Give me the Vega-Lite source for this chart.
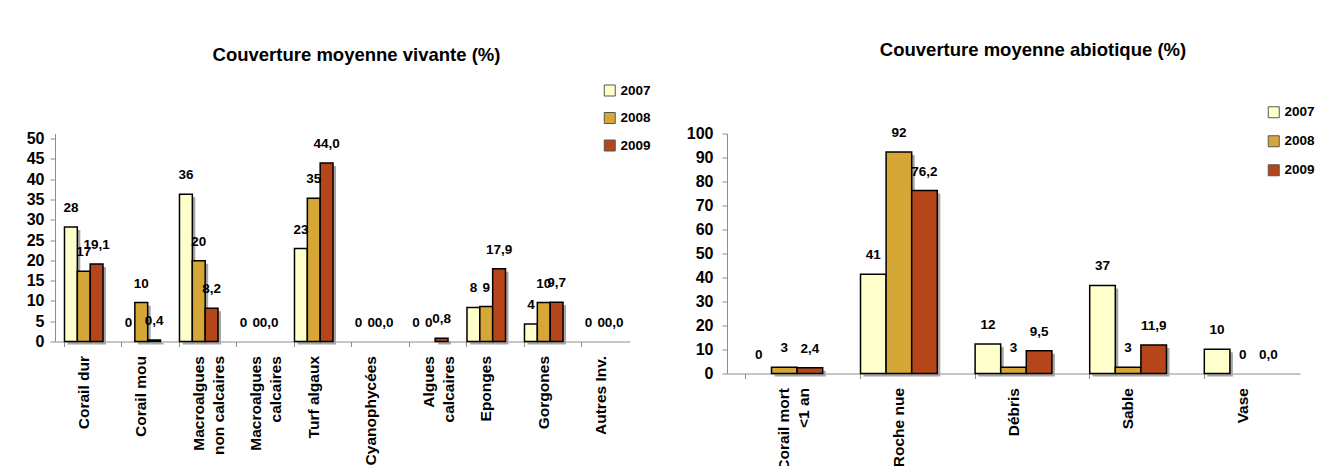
{
  "$schema": "https://vega.github.io/schema/vega-lite/v6.json",
  "padding": {"left": 26, "top": 40.5, "right": 5, "bottom": 0},
  "background": "white",
  "datasets": {
    "vivante": [
      {"categorie": "Corail dur", "annee": "2007", "valeur": 28.2, "etiquette": "28"},
      {"categorie": "Corail dur", "annee": "2008", "valeur": 17.3, "etiquette": "17"},
      {"categorie": "Corail dur", "annee": "2009", "valeur": 19.1, "etiquette": "19,1"},
      {"categorie": "Corail mou", "annee": "2007", "valeur": 0, "etiquette": "0"},
      {"categorie": "Corail mou", "annee": "2008", "valeur": 9.6, "etiquette": "10"},
      {"categorie": "Corail mou", "annee": "2009", "valeur": 0.4, "etiquette": "0,4"},
      {"categorie": "Macroalgues non calcaires", "annee": "2007", "valeur": 36.3, "etiquette": "36"},
      {"categorie": "Macroalgues non calcaires", "annee": "2008", "valeur": 19.9, "etiquette": "20"},
      {"categorie": "Macroalgues non calcaires", "annee": "2009", "valeur": 8.2, "etiquette": "8,2"},
      {"categorie": "Macroalgues calcaires", "annee": "2007", "valeur": 0, "etiquette": "0"},
      {"categorie": "Macroalgues calcaires", "annee": "2008", "valeur": 0, "etiquette": "0"},
      {"categorie": "Macroalgues calcaires", "annee": "2009", "valeur": 0, "etiquette": "0,0"},
      {"categorie": "Turf algaux", "annee": "2007", "valeur": 22.9, "etiquette": "23"},
      {"categorie": "Turf algaux", "annee": "2008", "valeur": 35.3, "etiquette": "35"},
      {"categorie": "Turf algaux", "annee": "2009", "valeur": 44.0, "etiquette": "44,0"},
      {"categorie": "Cyanophycées", "annee": "2007", "valeur": 0, "etiquette": "0"},
      {"categorie": "Cyanophycées", "annee": "2008", "valeur": 0, "etiquette": "0"},
      {"categorie": "Cyanophycées", "annee": "2009", "valeur": 0, "etiquette": "0,0"},
      {"categorie": "Algues calcaires", "annee": "2007", "valeur": 0, "etiquette": "0"},
      {"categorie": "Algues calcaires", "annee": "2008", "valeur": 0, "etiquette": "0"},
      {"categorie": "Algues calcaires", "annee": "2009", "valeur": 0.8, "etiquette": "0,8"},
      {"categorie": "Eponges", "annee": "2007", "valeur": 8.4, "etiquette": "8"},
      {"categorie": "Eponges", "annee": "2008", "valeur": 8.6, "etiquette": "9"},
      {"categorie": "Eponges", "annee": "2009", "valeur": 17.9, "etiquette": "17,9"},
      {"categorie": "Gorgones", "annee": "2007", "valeur": 4.3, "etiquette": "4"},
      {"categorie": "Gorgones", "annee": "2008", "valeur": 9.6, "etiquette": "10"},
      {"categorie": "Gorgones", "annee": "2009", "valeur": 9.7, "etiquette": "9,7"},
      {"categorie": "Autres Inv.", "annee": "2007", "valeur": 0, "etiquette": "0"},
      {"categorie": "Autres Inv.", "annee": "2008", "valeur": 0, "etiquette": "0"},
      {"categorie": "Autres Inv.", "annee": "2009", "valeur": 0, "etiquette": "0,0"}
    ],
    "abiotique": [
      {"categorie": "Corail mort <1 an", "annee": "2007", "valeur": 0, "etiquette": "0"},
      {"categorie": "Corail mort <1 an", "annee": "2008", "valeur": 2.6, "etiquette": "3"},
      {"categorie": "Corail mort <1 an", "annee": "2009", "valeur": 2.4, "etiquette": "2,4"},
      {"categorie": "Roche nue", "annee": "2007", "valeur": 41.4, "etiquette": "41"},
      {"categorie": "Roche nue", "annee": "2008", "valeur": 92.3, "etiquette": "92"},
      {"categorie": "Roche nue", "annee": "2009", "valeur": 76.2, "etiquette": "76,2"},
      {"categorie": "Débris", "annee": "2007", "valeur": 12.3, "etiquette": "12"},
      {"categorie": "Débris", "annee": "2008", "valeur": 2.6, "etiquette": "3"},
      {"categorie": "Débris", "annee": "2009", "valeur": 9.5, "etiquette": "9,5"},
      {"categorie": "Sable", "annee": "2007", "valeur": 36.7, "etiquette": "37"},
      {"categorie": "Sable", "annee": "2008", "valeur": 2.6, "etiquette": "3"},
      {"categorie": "Sable", "annee": "2009", "valeur": 11.9, "etiquette": "11,9"},
      {"categorie": "Vase", "annee": "2007", "valeur": 10.1, "etiquette": "10"},
      {"categorie": "Vase", "annee": "2008", "valeur": 0, "etiquette": "0"},
      {"categorie": "Vase", "annee": "2009", "valeur": 0, "etiquette": "0,0"}
    ]
  },
  "config": {
    "view": {"stroke": null},
    "axis": {
      "labelFont": "Liberation Sans",
      "labelFontWeight": "bold",
      "labelFontSize": 15.5,
      "labelColor": "#000000",
      "domainColor": "#8c8c8c",
      "tickColor": "#8c8c8c",
      "tickSize": 5,
      "grid": false,
      "title": null
    },
    "legend": {
      "labelFont": "Liberation Sans",
      "labelFontWeight": "bold",
      "labelFontSize": 13.5,
      "labelColor": "#000000",
      "symbolType": "square",
      "symbolSize": 121,
      "symbolStrokeColor": "#555555",
      "symbolStrokeWidth": 1,
      "labelOffset": 4,
      "padding": 0,
      "title": null
    },
    "title": {
      "font": "Liberation Sans",
      "fontWeight": "bold",
      "fontSize": 18.5,
      "color": "#000000",
      "anchor": "middle",
      "frame": "group",
      "baseline": "middle"
    }
  },
  "hconcat": [
    {
      "data": {"name": "vivante"},
      "width": 575,
      "height": 208,
      "title": {"text": "Couverture moyenne vivante (%)", "dx": 14, "offset": 19.5},
      "encoding": {
        "x": {
          "field": "categorie", "type": "nominal",
          "sort": ["Corail dur", "Corail mou", "Macroalgues non calcaires", "Macroalgues calcaires", "Turf algaux", "Cyanophycées", "Algues calcaires", "Eponges", "Gorgones", "Autres Inv."],
          "scale": {"paddingInner": 0.33, "paddingOuter": 0.165},
          "axis": {
            "labelAngle": 270, "bandPosition": 0,
            "labelPadding": 9, "labelLineHeight": 20,
            "labelExpr": "datum.label == 'Macroalgues non calcaires' ? ['Macroalgues', 'non calcaires'] : datum.label == 'Macroalgues calcaires' ? ['Macroalgues', 'calcaires'] : datum.label == 'Algues calcaires' ? ['Algues', 'calcaires'] : datum.label"
          }
        },
        "y": {
          "field": "valeur", "type": "quantitative",
          "scale": {"domain": [0, 51.25], "nice": false},
          "axis": {"values": [0, 5, 10, 15, 20, 25, 30, 35, 40, 45, 50], "labelPadding": 6, "labelFontSize": 16}
        }
      },
      "layer": [
        {
          "transform": [{"filter": "datum.valeur > 0"}],
          "mark": {"type": "bar", "color": "#a6a6a6", "yOffset": 3, "y2Offset": 0},
          "encoding": {
            "xOffset": {"field": "annee", "type": "nominal", "sort": ["2007", "2008", "2009"], "scale": {"range": [3, 41.5]}}
          }
        },
        {
          "transform": [{"filter": "datum.valeur > 0"}],
          "mark": {"type": "bar", "stroke": "#000000", "strokeWidth": 1.5},
          "encoding": {
            "xOffset": {"field": "annee", "type": "nominal", "sort": ["2007", "2008", "2009"]},
            "color": {
              "field": "annee", "type": "nominal",
              "scale": {"domain": ["2007", "2008", "2009"], "range": ["#FFFFCC", "#D6A736", "#B5461A"]},
              "legend": {"orient": "none", "legendX": 548, "legendY": -49.75, "rowPadding": 11.5}
            }
          }
        },
        {
          "mark": {"type": "text", "font": "Liberation Sans", "fontWeight": "bold", "fontSize": 13.5, "baseline": "middle", "dy": -19, "color": "#000000"},
          "encoding": {
            "xOffset": {"field": "annee", "type": "nominal", "sort": ["2007", "2008", "2009"]},
            "text": {"field": "etiquette", "type": "nominal"}
          }
        }
      ],
      "resolve": {"scale": {"xOffset": "independent"}}
    },
    {
      "data": {"name": "abiotique"},
      "width": 573,
      "height": 240,
      "title": {"text": "Couverture moyenne abiotique (%)", "dx": 19.5, "offset": 46},
      "encoding": {
        "x": {
          "field": "categorie", "type": "nominal",
          "sort": ["Corail mort <1 an", "Roche nue", "Débris", "Sable", "Vase"],
          "scale": {"paddingInner": 0.33, "paddingOuter": 0.165},
          "axis": {
            "labelAngle": 270, "bandPosition": 0,
            "labelPadding": 9, "labelLineHeight": 20,
            "labelExpr": "datum.label == 'Corail mort <1 an' ? ['Corail mort', '<1 an'] : datum.label"
          }
        },
        "y": {
          "field": "valeur", "type": "quantitative",
          "scale": {"domain": [0, 100], "nice": false},
          "axis": {"values": [0, 10, 20, 30, 40, 50, 60, 70, 80, 90, 100], "labelPadding": 9, "labelFontSize": 16}
        }
      },
      "layer": [
        {
          "transform": [{"filter": "datum.valeur > 0"}],
          "mark": {"type": "bar", "color": "#a6a6a6", "yOffset": 3, "y2Offset": 0},
          "encoding": {
            "xOffset": {"field": "annee", "type": "nominal", "sort": ["2007", "2008", "2009"], "scale": {"range": [3, 79.8]}}
          }
        },
        {
          "transform": [{"filter": "datum.valeur > 0"}],
          "mark": {"type": "bar", "stroke": "#000000", "strokeWidth": 1.5},
          "encoding": {
            "xOffset": {"field": "annee", "type": "nominal", "sort": ["2007", "2008", "2009"]},
            "color": {
              "field": "annee", "type": "nominal",
              "scale": {"domain": ["2007", "2008", "2009"], "range": ["#FFFFCC", "#D6A736", "#B5461A"]},
              "legend": {"orient": "none", "legendX": 540, "legendY": -28, "rowPadding": 13}
            }
          }
        },
        {
          "mark": {"type": "text", "font": "Liberation Sans", "fontWeight": "bold", "fontSize": 13.5, "baseline": "middle", "dy": -19, "color": "#000000"},
          "encoding": {
            "xOffset": {"field": "annee", "type": "nominal", "sort": ["2007", "2008", "2009"]},
            "text": {"field": "etiquette", "type": "nominal"}
          }
        }
      ],
      "resolve": {"scale": {"xOffset": "independent"}}
    }
  ],
  "spacing": 97,
  "bounds": "flush",
  "resolve": {"scale": {"color": "independent", "xOffset": "independent"}, "legend": {"color": "independent"}}
}
